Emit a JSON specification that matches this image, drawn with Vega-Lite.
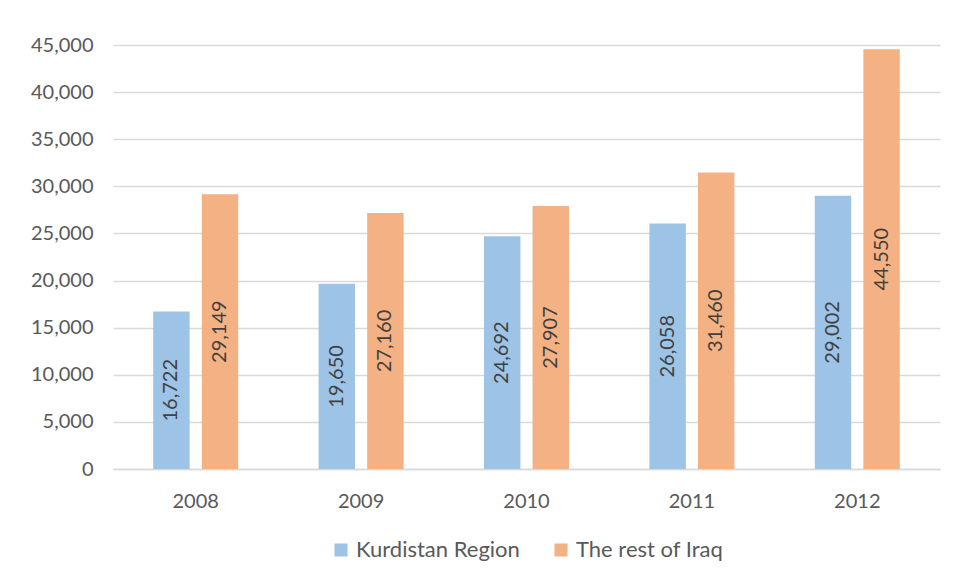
{
  "$schema": "https://vega.github.io/schema/vega-lite/v6.json",
  "autosize": {"type": "none"},
  "width": 827,
  "height": 424,
  "padding": {"left": 113, "top": 45, "right": 15, "bottom": 114},
  "background": "white",
  "config": {
    "font": "Lato",
    "view": {"stroke": null},
    "legend": {"layout": {"bottom": {"anchor": "middle"}}}
  },
  "data": {
    "values": [
      {"year": "2008", "region": "Kurdistan Region", "value": 16722},
      {"year": "2008", "region": "The rest of Iraq", "value": 29149},
      {"year": "2009", "region": "Kurdistan Region", "value": 19650},
      {"year": "2009", "region": "The rest of Iraq", "value": 27160},
      {"year": "2010", "region": "Kurdistan Region", "value": 24692},
      {"year": "2010", "region": "The rest of Iraq", "value": 27907},
      {"year": "2011", "region": "Kurdistan Region", "value": 26058},
      {"year": "2011", "region": "The rest of Iraq", "value": 31460},
      {"year": "2012", "region": "Kurdistan Region", "value": 29002},
      {"year": "2012", "region": "The rest of Iraq", "value": 44550}
    ]
  },
  "encoding": {
    "x": {
      "field": "year", "type": "nominal",
      "scale": {"paddingInner": 0.486, "paddingOuter": 0.243},
      "axis": {
        "title": null, "labelAngle": 0, "ticks": false,
        "labelFontSize": 20, "labelColor": "#595959", "labelPadding": 22,
        "domainColor": "#d9d9d9", "domainWidth": 1.5
      }
    },
    "xOffset": {
      "field": "region", "type": "nominal",
      "scale": {"paddingInner": 0.25, "paddingOuter": 0}
    }
  },
  "layer": [
    {
      "mark": {"type": "bar"},
      "encoding": {
        "y": {
          "field": "value", "type": "quantitative",
          "scale": {"domain": [0, 45000], "nice": false},
          "axis": {
            "title": null, "values": [0, 5000, 10000, 15000, 20000, 25000, 30000, 35000, 40000, 45000],
            "format": ",d", "ticks": false, "domain": false,
            "labelFontSize": 20, "labelColor": "#595959", "labelPadding": 20,
            "gridColor": "#d9d9d9", "gridWidth": 1.5
          }
        },
        "color": {
          "field": "region", "type": "nominal",
          "scale": {"domain": ["Kurdistan Region", "The rest of Iraq"], "range": ["#9DC3E6", "#F4B183"]},
          "legend": {
            "title": null, "orient": "bottom", "direction": "horizontal",
            "symbolType": "square", "symbolSize": 170, "symbolStrokeWidth": 0,
            "labelFontSize": 22, "labelColor": "#595959", "columnPadding": 30,
            "offset": 28, "labelLimit": 300
          }
        }
      }
    },
    {
      "transform": [{"calculate": "datum.value / 2", "as": "labelPos"}],
      "mark": {"type": "text", "angle": 270, "fontSize": 20, "color": "#404040", "align": "center", "baseline": "middle"},
      "encoding": {
        "y": {"field": "labelPos", "type": "quantitative"},
        "text": {"field": "value", "type": "quantitative", "format": ","}
      }
    }
  ]
}
